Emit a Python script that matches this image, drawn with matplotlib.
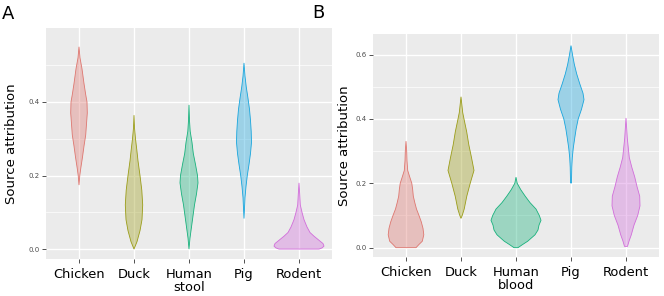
import numpy as np
import matplotlib
matplotlib.use("Agg")
import matplotlib.pyplot as plt
from matplotlib.colors import to_rgb

# ---------------- data ----------------
categories_a = ["Chicken", "Duck", "Human\nstool", "Pig", "Rodent"]
categories_b = ["Chicken", "Duck", "Human\nblood", "Pig", "Rodent"]
colors = ["#F8766D", "#A3A500", "#00BF7D", "#00B0F6", "#E76BF3"]

# violin profiles: y values (source attribution) and density half-widths
# Panel A (Human stool)
a_chicken_y = [0.174, 0.20, 0.22, 0.25, 0.28, 0.31, 0.34, 0.37, 0.40, 0.42, 0.45, 0.49, 0.52, 0.55]
a_chicken_d = [0.0, 0.8, 1.8, 3.5, 5.0, 6.7, 7.5, 8.3, 8.0, 6.7, 5.0, 3.0, 1.0, 0.0]
a_duck_y = [0.0, 0.02, 0.05, 0.08, 0.12, 0.16, 0.20, 0.24, 0.27, 0.30, 0.33, 0.364]
a_duck_d = [0.0, 3.0, 6.0, 8.0, 8.7, 7.8, 6.0, 4.0, 2.8, 1.5, 0.5, 0.0]
a_human_y = [0.0, 0.03, 0.06, 0.09, 0.12, 0.15, 0.18, 0.20, 0.23, 0.26, 0.29, 0.32, 0.35, 0.392]
a_human_d = [0.0, 1.0, 2.5, 4.0, 5.5, 7.5, 9.0, 8.5, 6.5, 4.3, 3.0, 1.2, 0.5, 0.0]
a_pig_y = [0.083, 0.11, 0.14, 0.17, 0.20, 0.23, 0.26, 0.29, 0.32, 0.35, 0.38, 0.41, 0.44, 0.47, 0.506]
a_pig_d = [0.0, 0.5, 1.0, 2.0, 3.3, 5.0, 6.5, 7.5, 7.2, 6.5, 5.5, 4.0, 2.3, 1.0, 0.0]
a_rodent_y = [0.0, 0.003, 0.008, 0.015, 0.025, 0.035, 0.045, 0.06, 0.08, 0.10, 0.12, 0.15, 0.18]
a_rodent_d = [20.0, 23.0, 25.0, 24.0, 19.5, 15.0, 11.0, 8.0, 5.0, 3.0, 1.3, 0.7, 0.0]

# Panel B (Human blood)
b_chicken_y = [0.0, 0.01, 0.02, 0.04, 0.06, 0.08, 0.10, 0.12, 0.14, 0.16, 0.18, 0.20, 0.22, 0.24, 0.27, 0.30, 0.331]
b_chicken_d = [10.0, 13.0, 16.3, 17.8, 17.0, 15.3, 13.0, 10.5, 8.8, 7.3, 6.7, 5.8, 3.7, 1.7, 1.0, 0.7, 0.0]
b_duck_y = [0.091, 0.10, 0.12, 0.16, 0.20, 0.24, 0.28, 0.32, 0.36, 0.40, 0.42, 0.44, 0.469]
b_duck_d = [0.0, 1.2, 3.2, 5.8, 9.2, 13.0, 10.5, 7.8, 5.7, 3.0, 1.7, 1.0, 0.0]
b_human_y = [0.0, 0.01, 0.02, 0.04, 0.055, 0.07, 0.085, 0.10, 0.12, 0.14, 0.16, 0.18, 0.20, 0.219]
b_human_d = [2.0, 6.7, 11.7, 19.0, 22.0, 23.0, 25.0, 23.3, 20.0, 14.0, 9.2, 4.8, 1.2, 0.0]
b_pig_y = [0.201, 0.22, 0.25, 0.28, 0.31, 0.34, 0.37, 0.40, 0.43, 0.46, 0.48, 0.51, 0.54, 0.57, 0.60, 0.628]
b_pig_d = [0.5, 0.6, 0.8, 1.3, 2.3, 3.7, 5.2, 7.2, 10.5, 13.0, 12.0, 8.7, 5.7, 3.3, 1.5, 0.0]
b_rodent_y = [0.004, 0.02, 0.04, 0.07, 0.10, 0.13, 0.16, 0.19, 0.22, 0.25, 0.28, 0.31, 0.34, 0.37, 0.403]
b_rodent_d = [1.5, 3.0, 5.3, 8.0, 11.7, 14.0, 13.7, 11.0, 8.7, 5.8, 3.3, 2.3, 1.3, 0.7, 0.0]

panel_a = [(a_chicken_y, a_chicken_d), (a_duck_y, a_duck_d), (a_human_y, a_human_d),
           (a_pig_y, a_pig_d), (a_rodent_y, a_rodent_d)]
panel_b = [(b_chicken_y, b_chicken_d), (b_duck_y, b_duck_d), (b_human_y, b_human_d),
           (b_pig_y, b_pig_d), (b_rodent_y, b_rodent_d)]

# ---------------- plotting ----------------
DENS_SCALE = 1.0 / 55.0  # density units -> category widths


def mix(c, other, t):
    a = np.array(to_rgb(c))
    b = np.array(to_rgb(other))
    return tuple(a * (1 - t) + b * t)


fig = plt.figure(figsize=(6.64, 2.96), dpi=100)
ax_a = fig.add_axes([46 / 664, 1 - 259 / 296, (332 - 46) / 664, (259 - 28) / 296])
ax_b = fig.add_axes([373 / 664, 1 - 257 / 296, (659 - 373) / 664, (257 - 34) / 296])


def style(ax, cats, ylim, majors, minors):
    ax.set_facecolor("#EBEBEB")
    for s in ax.spines.values():
        s.set_visible(False)
    ax.set_xlim(-0.6, len(cats) - 0.4)
    ax.set_ylim(*ylim)
    ax.set_xticks(range(len(cats)))
    ax.set_xticklabels(cats, fontsize=9.4, color="black", linespacing=1.0)
    ax.set_yticks(majors)
    ax.set_yticklabels([f"{v:.1f}" for v in majors], fontsize=5.0, color="#4D4D4D")
    ax.set_yticks(minors, minor=True)
    ax.tick_params(axis="x", which="major", length=2.8, width=0.6, color="#333333", pad=3.5)
    ax.tick_params(axis="y", which="major", length=2.8, width=0.6, color="#333333", pad=2)
    ax.tick_params(axis="y", which="minor", length=0)
    ax.grid(True, which="major", color="white", linewidth=1.0)
    ax.grid(True, which="minor", axis="y", color="white", linewidth=0.5)
    ax.set_axisbelow(True)
    ax.set_ylabel("Source attribution", fontsize=9.5)
    ax.yaxis.label.set_va("center")


def violins(ax, profiles):
    for i, ((ys, ds), c) in enumerate(zip(profiles, colors)):
        ys = np.asarray(ys)
        hw = np.asarray(ds) * DENS_SCALE
        xs = np.concatenate([i - hw, (i + hw)[::-1]])
        yy = np.concatenate([ys, ys[::-1]])
        ax.fill(xs, yy, facecolor=mix(c, "#999999", 0.25), alpha=0.4, edgecolor="none", zorder=3)
        ax.fill(xs, yy, facecolor="none", edgecolor=mix(c, "#777777", 0.2), linewidth=0.6, zorder=4)


style(ax_a, categories_a, (-0.027, 0.601), [0.0, 0.2, 0.4], [0.1, 0.3, 0.5])
style(ax_b, categories_b, (-0.029, 0.664), [0.0, 0.2, 0.4, 0.6], [0.1, 0.3, 0.5])
violins(ax_a, panel_a)
violins(ax_b, panel_b)

ax_a.yaxis.set_label_coords(-(46 - 12) / 286, 0.5)
ax_b.yaxis.set_label_coords(-(373 - 345) / 286, 0.5)

fig.text(2 / 664, 1 - 19 / 296, "A", fontsize=13, ha="left", va="baseline")
fig.text(312 / 664, 1 - 18 / 296, "B", fontsize=13, ha="left", va="baseline")

fig.savefig("out.png", dpi=100)
